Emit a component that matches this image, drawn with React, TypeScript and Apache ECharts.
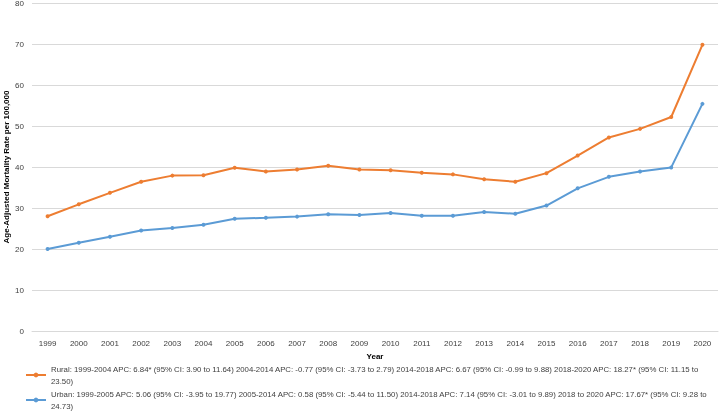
import React, { useEffect, useRef } from "react";
import * as echarts from "echarts";

const years = ["1999","2000","2001","2002","2003","2004","2005","2006","2007","2008","2009","2010","2011","2012","2013","2014","2015","2016","2017","2018","2019","2020"];
const rural = [28.0, 30.9, 33.7, 36.4, 37.9, 38.0, 39.8, 38.9, 39.4, 40.3, 39.4, 39.2, 38.6, 38.2, 37.0, 36.4, 38.5, 42.8, 47.2, 49.3, 52.2, 69.8];
const urban = [20.0, 21.5, 23.0, 24.5, 25.1, 25.9, 27.4, 27.6, 27.9, 28.5, 28.3, 28.8, 28.1, 28.1, 29.0, 28.6, 30.6, 34.8, 37.6, 38.9, 39.9, 55.4];
const ruralName = "Rural: 1999-2004 APC: 6.84* (95% CI: 3.90 to 11.64) 2004-2014 APC: -0.77 (95% CI: -3.73 to 2.79) 2014-2018 APC: 6.67 (95% CI: -0.99 to 9.88) 2018-2020 APC: 18.27* (95% CI: 11.15 to 23.50)";
const urbanName = "Urban: 1999-2005 APC: 5.06 (95% CI: -3.95 to 19.77) 2005-2014 APC: 0.58 (95% CI: -5.44 to 11.50) 2014-2018 APC: 7.14 (95% CI: -3.01 to 9.89) 2018 to 2020 APC: 17.67* (95% CI: 9.28 to 24.73)";

const FONT = "Liberation Sans";

function wrapLast(name: string) {
  const i = name.lastIndexOf(" ");
  return name.slice(0, i) + "\n" + name.slice(i + 1);
}

export default function App() {
  const ref = useRef<HTMLDivElement>(null);
  useEffect(() => {
    const chart = echarts.init(ref.current!, undefined, { renderer: "svg" });
    chart.setOption({
      animation: false,
      textStyle: { fontFamily: FONT },
      grid: { left: 32, right: 1, top: 3, bottom: 81, containLabel: false, outerBoundsMode: "none" },
      legend: {
        orient: "vertical",
        left: 25,
        top: 363,
        height: 60,
        padding: 0,
        itemGap: 1,
        itemWidth: 20,
        itemHeight: 6,
        formatter: (n: string) => wrapLast(n),
        textStyle: { fontSize: 7.8, color: "#404040", fontFamily: FONT, lineHeight: 12 },
        data: [ruralName, urbanName],
      },
      xAxis: {
        type: "category",
        data: years,
        boundaryGap: true,
        name: "Year",
        nameLocation: "middle",
        nameGap: 21,
        nameTextStyle: { fontSize: 8, fontWeight: "bold", color: "#000" },
        axisLine: { lineStyle: { color: "#d9d9d9" } },
        axisTick: { show: false },
        axisLabel: { fontSize: 8, color: "#404040", margin: 8 },
      },
      yAxis: {
        type: "value",
        min: 0,
        max: 80,
        interval: 10,
        name: "Age-Adjusted Mortality Rate per 100,000",
        nameLocation: "middle",
        nameGap: 22,
        nameMoveOverlap: false,
        nameTextStyle: { fontSize: 8, fontWeight: "bold", color: "#000" },
        axisLine: { show: false },
        axisTick: { show: false },
        axisLabel: { fontSize: 8, color: "#404040", margin: 8 },
        splitLine: { lineStyle: { color: "#d9d9d9" } },
      },
      series: [
        {
          name: ruralName,
          type: "line",
          data: rural,
          symbol: "circle",
          symbolSize: 4,
          itemStyle: { color: "#ED7D31" },
          lineStyle: { color: "#ED7D31", width: 2 },
        },
        {
          name: urbanName,
          type: "line",
          data: urban,
          symbol: "circle",
          symbolSize: 4,
          itemStyle: { color: "#5B9BD5" },
          lineStyle: { color: "#5B9BD5", width: 2 },
        },
      ],
    });
    return () => chart.dispose();
  }, []);
  return <div ref={ref} style={{ position: "fixed", left: 0, top: 0, width: 719, height: 412 }} />;
}
